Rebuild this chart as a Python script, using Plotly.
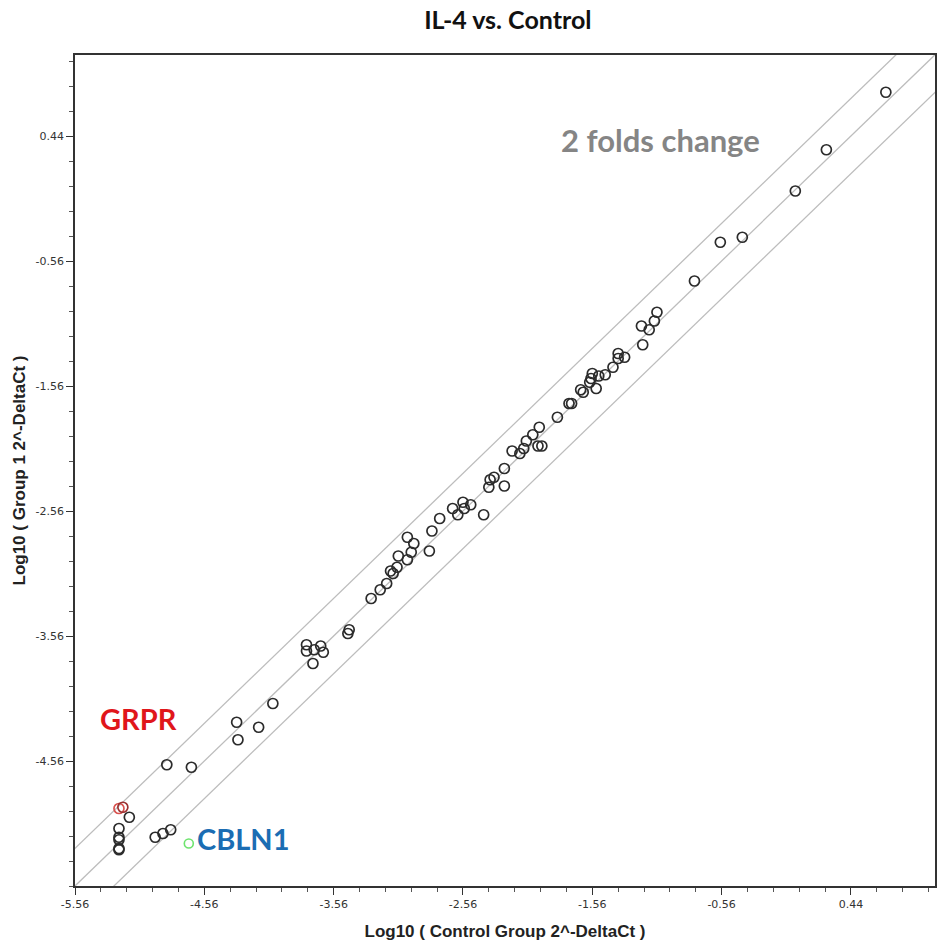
import plotly.graph_objects as go

# ---- data (log10 values) ----
control_x = [0.71, 0.25, 0.01, -0.40, -0.57, -0.77, -1.06, -1.08, -1.18, -1.12,
             -1.17, -1.36, -1.36, -1.31, -1.40, -1.46, -1.51, -1.56, -1.57, -1.58,
             -1.53, -1.65, -1.63, -1.72, -1.74, -1.83, -1.97, -2.02, -2.07, -1.98,
             -1.95, -2.09, -2.18, -2.12, -2.24, -2.24, -2.32, -2.35, -2.36, -2.40,
             -2.50, -2.56, -2.55, -2.60, -2.64, -2.74, -2.80, -2.82, -2.99, -2.94,
             -2.96, -2.99, -3.06, -3.07, -3.12, -3.10, -3.15, -3.20, -3.27, -3.44,
             -3.45, -3.77, -3.77, -3.71, -3.66, -3.64, -3.72, -4.03, -4.31, -4.14,
             -4.30, -4.85, -4.66, -5.14, -5.22, -5.22, -5.22, -5.22, -5.22, -4.94,
             -4.88, -4.82]
group1_y = [0.79, 0.33, 0.00, -0.37, -0.41, -0.72, -0.97, -1.04, -1.08, -1.11,
            -1.23, -1.30, -1.34, -1.33, -1.41, -1.47, -1.48, -1.46, -1.50, -1.53,
            -1.58, -1.59, -1.61, -1.70, -1.70, -1.81, -1.89, -1.95, -2.00, -2.04,
            -2.04, -2.06, -2.08, -2.10, -2.22, -2.36, -2.29, -2.31, -2.37, -2.59,
            -2.51, -2.49, -2.54, -2.59, -2.54, -2.62, -2.72, -2.88, -2.77, -2.82,
            -2.89, -2.95, -2.92, -3.01, -3.04, -3.06, -3.14, -3.19, -3.26, -3.51,
            -3.54, -3.63, -3.68, -3.67, -3.64, -3.69, -3.78, -4.10, -4.25, -4.29,
            -4.39, -4.59, -4.61, -5.01, -5.10, -5.17, -5.19, -5.26, -5.27, -5.17,
            -5.14, -5.11]

grpr_x = [-5.22, -5.19]
grpr_y = [-4.94, -4.93]
cbln1_x = [-4.68]
cbln1_y = [-5.22]

fold_offsets = [0.301, 0.0, -0.301]   # log10(2) boundaries
line_x = [-6.0, 2.0]

x_tick_vals = [-5.56, -4.56, -3.56, -2.56, -1.56, -0.56, 0.44]
x_tick_text = ["-5.56", "-4.56", "-3.56", "-2.56", "-1.56", "-0.56", "0.44"]
y_tick_vals = [-4.56, -3.56, -2.56, -1.56, -0.56, 0.44]
y_tick_text = ["-4.56", "-3.56", "-2.56", "-1.56", "-0.56", "0.44"]

fig = go.Figure()

for off in fold_offsets:
    fig.add_trace(go.Scatter(
        x=line_x, y=[v + off for v in line_x], mode="lines",
        line=dict(color="#bdbdbd", width=1.3), hoverinfo="skip", showlegend=False))

fig.add_trace(go.Scatter(
    x=control_x, y=group1_y, mode="markers", showlegend=False,
    marker=dict(symbol="circle-open", size=10, color="#2b2b2b", line=dict(width=1.7))))
fig.add_trace(go.Scatter(
    x=grpr_x, y=grpr_y, mode="markers", showlegend=False,
    marker=dict(symbol="circle-open", size=10, color=["#d9534f", "#9b3030"], line=dict(width=1.7))))
fig.add_trace(go.Scatter(
    x=cbln1_x, y=cbln1_y, mode="markers", showlegend=False,
    marker=dict(symbol="circle-open", size=9, color="#6ee46e", line=dict(width=1.6))))

axis_common = dict(
    tickmode="array", automargin=False,
    ticks="outside", ticklen=7, tickwidth=1.2, tickcolor="#333",
    showline=True, linecolor="#333", linewidth=1.5, mirror=True,
    showgrid=False, zeroline=False,
    tickfont=dict(family="DejaVu Sans", size=11, color="#333"),
    minor=dict(tick0=0.44, dtick=0.2, ticks="outside", ticklen=4, tickcolor="#555", showgrid=False),
)

fig.update_layout(
    width=937, height=945,
    margin=dict(l=75, r=2, t=55, b=59),
    paper_bgcolor="white", plot_bgcolor="white",
    title=dict(text="<b>IL-4 vs. Control</b>", x=0.542, xanchor="center", y=0.979, yanchor="middle",
               font=dict(family="Lato", size=25, color="#111")),
    xaxis=dict(range=[-5.56, 1.09], tickvals=x_tick_vals, ticktext=x_tick_text, **axis_common,
               title=dict(text="<b>Log10 ( Control Group 2^-DeltaCt )</b>", standoff=15,
                          font=dict(family="Liberation Sans", size=17, color="#222"))),
    yaxis=dict(range=[-5.56, 1.088], tickvals=y_tick_vals, ticktext=y_tick_text, **axis_common,
               title=dict(text="<b>Log10 ( Group 1 2^-DeltaCt )</b>", standoff=6,
                          font=dict(family="Liberation Sans", size=17, color="#222"))),
    annotations=[
        dict(text="<b>2 folds change</b>", x=-1.036, y=0.41, xref="x", yref="y",
             showarrow=False, font=dict(family="Lato", size=31, color="#858585")),
        dict(text="<b>GRPR</b>", x=-5.07, y=-4.22, xref="x", yref="y",
             showarrow=False, font=dict(family="Lato", size=29, color="#e0161b")),
        dict(text="<b>CBLN1</b>", x=-4.26, y=-5.176, xref="x", yref="y",
             showarrow=False, font=dict(family="Lato", size=29, color="#1b6db3")),
    ],
)

fig.write_html("out.html")
